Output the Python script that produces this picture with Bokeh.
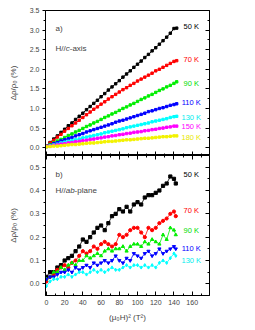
from bokeh.plotting import figure
from bokeh.models import LinearAxis, FixedTicker, PrintfTickFormatter, Range1d, Label, CustomLabelingPolicy
from bokeh.layouts import column
from bokeh.core.properties import value
from bokeh.embed import file_html
from bokeh.resources import INLINE

FONT = "Liberation Sans"

# ---------------- data: panel a) H//c-axis ----------------
xa = [0, 4, 8, 12, 16, 20, 24, 28, 32, 36, 40, 44, 48, 52, 56, 60, 64, 68, 72, 76,
      80, 84, 88, 92, 96, 100, 104, 108, 112, 116, 120, 124, 128, 132, 136, 140, 143]
a_50K = [0.04, 0.13, 0.22, 0.30, 0.39, 0.47, 0.56, 0.63, 0.72, 0.80, 0.88, 0.97, 1.05, 1.13, 1.21, 1.30, 1.38, 1.47, 1.55, 1.63,
         1.71, 1.80, 1.88, 1.96, 2.05, 2.13, 2.21, 2.30, 2.38, 2.47, 2.55, 2.64, 2.73, 2.82, 2.92, 3.04, 3.05]
a_70K = [0.04, 0.12, 0.19, 0.27, 0.34, 0.42, 0.49, 0.56, 0.63, 0.70, 0.77, 0.84, 0.91, 0.98, 1.04, 1.11, 1.17, 1.24, 1.30, 1.36,
         1.42, 1.48, 1.53, 1.59, 1.64, 1.70, 1.75, 1.80, 1.85, 1.90, 1.96, 2.00, 2.05, 2.10, 2.15, 2.20, 2.22]
a_90K = [0.03, 0.08, 0.12, 0.17, 0.21, 0.26, 0.31, 0.35, 0.40, 0.44, 0.49, 0.54, 0.58, 0.63, 0.67, 0.72, 0.77, 0.81, 0.86, 0.90,
         0.95, 1.00, 1.04, 1.09, 1.13, 1.18, 1.23, 1.27, 1.32, 1.36, 1.41, 1.46, 1.50, 1.55, 1.59, 1.64, 1.68]
a_110K = [0.03, 0.06, 0.10, 0.13, 0.17, 0.20, 0.23, 0.26, 0.30, 0.33, 0.36, 0.40, 0.43, 0.46, 0.49, 0.52, 0.55, 0.58, 0.61, 0.65,
          0.68, 0.70, 0.73, 0.76, 0.79, 0.82, 0.85, 0.88, 0.92, 0.94, 0.97, 1.00, 1.02, 1.05, 1.08, 1.10, 1.12]
a_130K = [0.03, 0.05, 0.07, 0.09, 0.12, 0.14, 0.16, 0.18, 0.20, 0.22, 0.25, 0.27, 0.29, 0.31, 0.33, 0.35, 0.38, 0.40, 0.42, 0.44,
          0.46, 0.48, 0.51, 0.53, 0.55, 0.57, 0.59, 0.61, 0.63, 0.66, 0.68, 0.70, 0.72, 0.74, 0.77, 0.79, 0.80]
a_150K = [0.03, 0.04, 0.06, 0.07, 0.09, 0.10, 0.12, 0.13, 0.15, 0.16, 0.18, 0.19, 0.21, 0.22, 0.24, 0.25, 0.27, 0.28, 0.30, 0.31,
          0.33, 0.34, 0.36, 0.37, 0.39, 0.40, 0.41, 0.43, 0.44, 0.46, 0.47, 0.49, 0.50, 0.52, 0.53, 0.55, 0.55]
a_180K = [0.02, 0.03, 0.04, 0.04, 0.05, 0.06, 0.07, 0.08, 0.08, 0.09, 0.10, 0.11, 0.12, 0.12, 0.13, 0.14, 0.15, 0.16, 0.16, 0.17,
          0.18, 0.19, 0.20, 0.20, 0.21, 0.22, 0.23, 0.24, 0.24, 0.25, 0.26, 0.27, 0.28, 0.28, 0.29, 0.30, 0.30]
a_labels = ["50 K", "70 K", "90 K", "110 K", "130 K", "150 K", "180 K"]

# ---------------- data: panel b) H//ab-plane ----------------
xb = [0, 4, 8, 12, 16, 20, 24, 28, 32, 36, 40, 44, 48, 52, 56, 60, 64, 68, 72, 76,
      80, 84, 88, 92, 96, 100, 104, 108, 112, 116, 120, 124, 128, 132, 136, 140, 142]
b_50K = [0.03, 0.05, 0.05, 0.07, 0.08, 0.10, 0.11, 0.12, 0.14, 0.16, 0.19, 0.18, 0.20, 0.22, 0.24, 0.25, 0.23, 0.26, 0.29, 0.30,
         0.32, 0.31, 0.33, 0.31, 0.34, 0.35, 0.34, 0.37, 0.38, 0.38, 0.39, 0.40, 0.42, 0.43, 0.46, 0.45, 0.43]
b_70K = [0.01, 0.03, 0.04, 0.06, 0.07, 0.08, 0.07, 0.09, 0.10, 0.12, 0.14, 0.13, 0.14, 0.16, 0.15, 0.17, 0.18, 0.17, 0.16, 0.17,
         0.21, 0.20, 0.21, 0.23, 0.24, 0.24, 0.22, 0.20, 0.24, 0.23, 0.24, 0.26, 0.27, 0.28, 0.30, 0.31, 0.29]
b_90K = [0.02, 0.03, 0.05, 0.05, 0.07, 0.06, 0.08, 0.09, 0.08, 0.10, 0.10, 0.12, 0.11, 0.12, 0.13, 0.12, 0.14, 0.15, 0.14, 0.15,
         0.15, 0.16, 0.14, 0.16, 0.17, 0.17, 0.16, 0.18, 0.17, 0.19, 0.18, 0.17, 0.21, 0.19, 0.24, 0.23, 0.21]
b_110K = [0.02, 0.03, 0.03, 0.04, 0.05, 0.05, 0.06, 0.05, 0.07, 0.06, 0.07, 0.08, 0.07, 0.09, 0.08, 0.09, 0.10, 0.09, 0.10, 0.12,
          0.10, 0.09, 0.11, 0.10, 0.13, 0.12, 0.11, 0.13, 0.14, 0.12, 0.13, 0.15, 0.13, 0.14, 0.15, 0.16, 0.15]
b_130K = [-0.01, 0.01, 0.02, 0.02, 0.03, 0.03, 0.04, 0.03, 0.04, 0.05, 0.05, 0.04, 0.05, 0.06, 0.05, 0.06, 0.05, 0.06, 0.07, 0.06,
          0.06, 0.07, 0.08, 0.07, 0.08, 0.08, 0.07, 0.08, 0.07, 0.08, 0.07, 0.09, 0.10, 0.09, 0.11, 0.13, 0.12]
b_labels = ["50 K", "70 K", "90 K", "110 K", "130 K"]

x_major = [0, 20, 40, 60, 80, 100, 120, 140, 160]
x_minor = [10, 30, 50, 70, 90, 110, 130, 150, 170]
ya_major = [0.0, 0.5, 1.0, 1.5, 2.0, 2.5, 3.0, 3.5]
ya_minor = [0.25, 0.75, 1.25, 1.75, 2.25, 2.75, 3.25]
yb_major = [0.0, 0.1, 0.2, 0.3, 0.4, 0.5]
yb_minor = [0.05, 0.15, 0.25, 0.35, 0.45]

# ---------------- styling (layout only) ----------------
colors_a = ["#000000", "#FF0000", "#00EE00", "#0000FF", "#00FFFF", "#FF00FF", "#F2F200"]
label_colors_a = ["#000000", "#FF0000", "#00DD00", "#0000FF", "#00EEEE", "#FF00FF", "#E8E800"]
label_y_a = [3.08, 2.26, 1.65, 1.14, 0.78, 0.53, 0.27]
colors_b = ["#000000", "#FF0000", "#00EE00", "#0000FF", "#00FFFF"]
markers_b = ["square", "circle", "triangle", "inverted_triangle", "diamond"]
label_y_b = [0.47, 0.313, 0.227, 0.15, 0.10]
LABEL_X = 159
BORDER_LEFT = 45
BORDER_TOP = 10


def no_labels():
    return CustomLabelingPolicy(code="""
        for (const i of indices)
            indices.unset(i)
        return indices
    """)


def style_common(p, ymaj, ymin, fmt_y):
    p.outline_line_color = "black"
    p.outline_line_width = 1
    p.xgrid.visible = False
    p.ygrid.visible = False
    p.background_fill_color = "white"
    p.border_fill_color = "white"
    ya = p.yaxis[0]
    ya.ticker = FixedTicker(ticks=ymaj, minor_ticks=ymin)
    ya.formatter = PrintfTickFormatter(format=fmt_y)
    ya.major_label_text_font = FONT
    ya.major_label_text_font_size = "7px"
    ya.major_label_standoff = 3
    ya.major_tick_in = 0
    ya.major_tick_out = 3
    ya.minor_tick_in = 0
    ya.minor_tick_out = 2
    ya.axis_label = "Δρ/ρ₀ (%)"
    ya.axis_label_text_font = FONT
    ya.axis_label_text_font_style = "normal"
    ya.axis_label_text_font_size = "8px"
    ya.axis_label_standoff = 9
    # right axis (ticks only)
    ra = LinearAxis(ticker=FixedTicker(ticks=ymaj, minor_ticks=ymin))
    ra.major_label_policy = no_labels()
    ra.major_label_text_font_size = "0px"
    ra.major_label_standoff = 0
    ra.major_tick_in = 4
    ra.major_tick_out = 0
    ra.minor_tick_in = 2
    ra.minor_tick_out = 0
    p.add_layout(ra, "right")


def tick_only_x(ax):
    ax.ticker = FixedTicker(ticks=x_major, minor_ticks=x_minor)
    ax.major_label_policy = no_labels()
    ax.major_label_text_font_size = "0px"
    ax.major_label_standoff = 0
    ax.major_tick_in = 4
    ax.major_tick_out = 0
    ax.minor_tick_in = 2
    ax.minor_tick_out = 0


# ---------------- panel a ----------------
p1 = figure(frame_width=164, frame_height=145,
            x_range=Range1d(-1, 179), y_range=Range1d(-0.2, 3.5),
            output_backend="svg", toolbar_location=None,
            min_border_left=BORDER_LEFT, min_border_right=8, min_border_top=BORDER_TOP, min_border_bottom=0)
style_common(p1, ya_major, ya_minor, "%.1f")
tick_only_x(p1.xaxis[0])

series_a = [a_50K, a_70K, a_90K, a_110K, a_130K, a_150K, a_180K]
for ys, c in zip(series_a, colors_a):
    p1.line(xa, ys, line_color=c, line_width=1)
    p1.scatter(xa, ys, marker="square", size=2.4, fill_color=c, line_color=c)

p1.text(x=[LABEL_X] * len(a_labels), y=label_y_a, text=a_labels,
        text_color=label_colors_a, text_font=value(FONT), text_font_size="7.5px",
        text_align="center", text_baseline="middle")

lab_kw = dict(text_font=FONT, text_font_size="8px", text_baseline="middle")
p1.add_layout(Label(x=10, y=3.05, text="a)", **lab_kw))
p1.add_layout(Label(x=10, y=2.54, text="H//", **lab_kw))
p1.add_layout(Label(x=10, y=2.54, x_offset=10.2, text="c", text_font_style="italic", **lab_kw))
p1.add_layout(Label(x=10, y=2.54, x_offset=14.2, text="-axis", **lab_kw))

# ---------------- panel b ----------------
p2 = figure(frame_width=164, frame_height=140,
            x_range=Range1d(-1, 179), y_range=Range1d(-0.05, 0.55),
            output_backend="svg", toolbar_location=None,
            min_border_left=BORDER_LEFT, min_border_right=8, min_border_top=0, min_border_bottom=3)
style_common(p2, yb_major, yb_minor, "%.1f")
xa2 = p2.xaxis[0]
xa2.ticker = FixedTicker(ticks=x_major, minor_ticks=x_minor)
xa2.major_label_text_font = FONT
xa2.major_label_text_font_size = "7px"
xa2.major_label_standoff = 4
xa2.major_tick_in = 4
xa2.major_tick_out = 0
xa2.minor_tick_in = 2
xa2.minor_tick_out = 0
xa2.axis_label = "(μ₀H)² (T²)"
xa2.axis_label_text_font = FONT
xa2.axis_label_text_font_style = "normal"
xa2.axis_label_text_font_size = "8px"
xa2.axis_label_standoff = 5
top_ax = LinearAxis()
tick_only_x(top_ax)
p2.add_layout(top_ax, "above")

series_b = [b_50K, b_70K, b_90K, b_110K, b_130K]
for ys, c, m in zip(series_b, colors_b, markers_b):
    p2.line(xb, ys, line_color=c, line_width=0.8)
    p2.scatter(xb, ys, marker=m, size=3.2, fill_color=c, line_color=c)

p2.text(x=[LABEL_X] * len(b_labels), y=label_y_b, text=b_labels,
        text_color=label_colors_a[:5], text_font=value(FONT), text_font_size="7.5px",
        text_align="center", text_baseline="middle")
p2.add_layout(Label(x=10, y=0.468, text="b)", **lab_kw))
p2.add_layout(Label(x=10, y=0.40, text="H//", **lab_kw))
p2.add_layout(Label(x=10, y=0.40, x_offset=10.2, text="ab", text_font_style="italic", **lab_kw))
p2.add_layout(Label(x=10, y=0.40, x_offset=19.1, text="-plane", **lab_kw))

layout = column(p1, p2, spacing=0)
open("out.html", "w").write(file_html(layout, INLINE))
